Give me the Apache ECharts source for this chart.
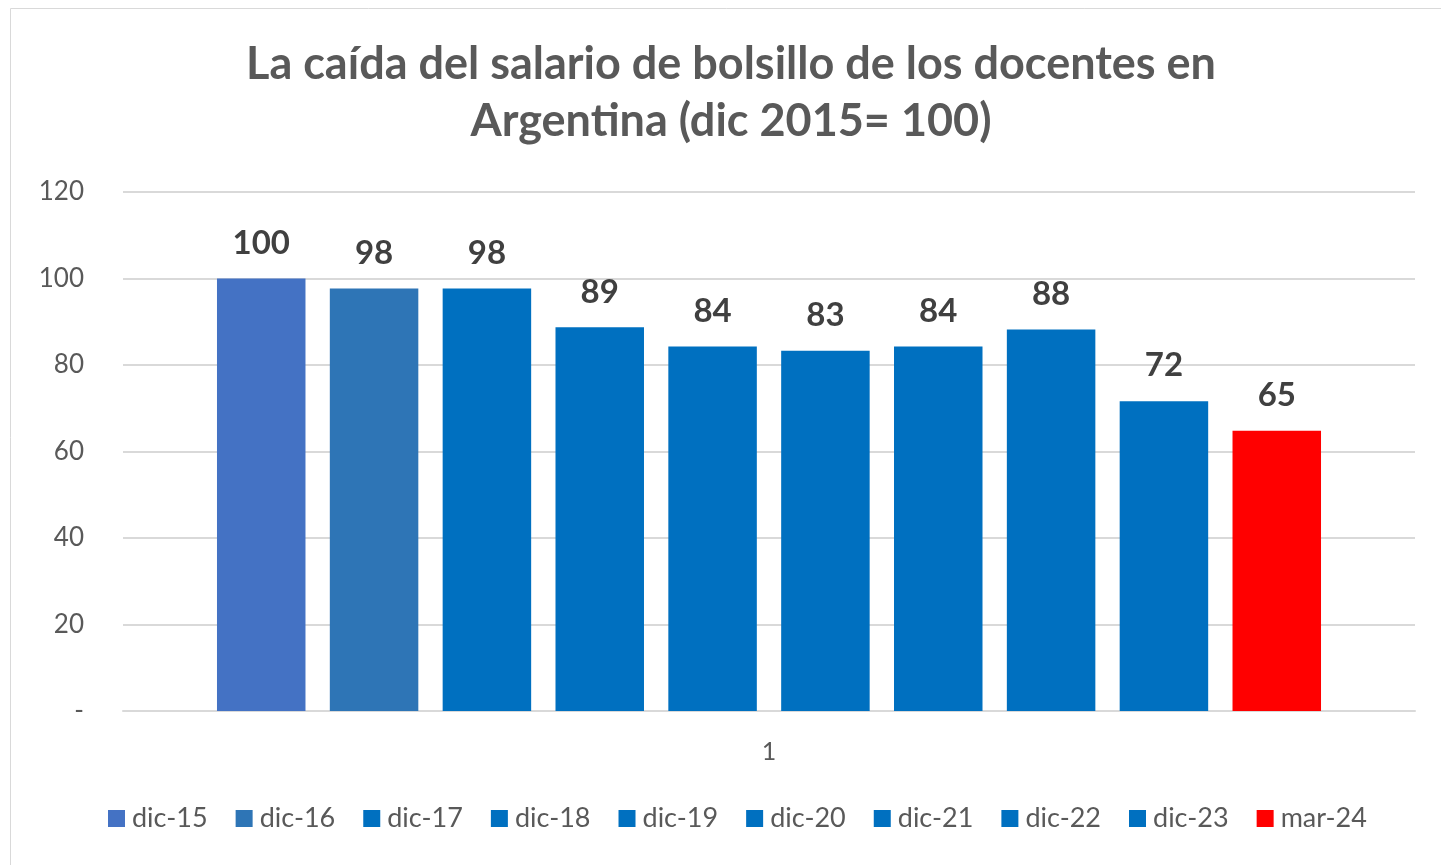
<!DOCTYPE html>
<html>
<head>
<meta charset="utf-8">
<script src="https://cdn.jsdelivr.net/npm/echarts@6/dist/echarts.min.js"></script>
<style>
  html, body { margin: 0; padding: 0; background: #fff; }
  #chart { width: 1441px; height: 865px; }
</style>
</head>
<body>
<div id="chart"></div>
<script>
const periods = ['dic-15', 'dic-16', 'dic-17', 'dic-18', 'dic-19', 'dic-20', 'dic-21', 'dic-22', 'dic-23', 'mar-24']
const values = [100, 97.7, 97.7, 88.7, 84.3, 83.3, 84.3, 88.2, 71.6, 64.8]
const colors = ['#4472C4', '#2E75B6', '#0070C0', '#0070C0', '#0070C0', '#0070C0', '#0070C0', '#0070C0', '#0070C0', '#FF0000']
const categories = ['1']

const font = 'Lato, "Open Sans", sans-serif'

const chart = echarts.init(document.getElementById('chart'))

const series = periods.map((name, i) => ({
  name,
  type: 'bar',
  data: [values[i]],
  barWidth: 88.5,
  barGap: '27.5%',
  itemStyle: { color: colors[i] },
  label: {
    show: true,
    position: 'top',
    distance: 19,
    fontFamily: font,
    fontSize: 33,
    fontWeight: 'bold',
    color: '#404040',
    formatter: p => Math.round(p.value)
  }
}))

chart.setOption({
  animation: false,
  title: {
    text: 'La caída del salario de bolsillo de los docentes en\nArgentina (dic 2015= 100)',
    left: 726,
    textAlign: 'center',
    top: 31,
    textStyle: {
      fontFamily: font,
      fontSize: 45,
      fontWeight: 'bold',
      color: '#595959',
      lineHeight: 57
    }
  },
  graphic: [{
    type: 'rect',
    shape: { x: 10.5, y: 8.5, width: 1440, height: 870 },
    style: { fill: 'none', stroke: '#D9D9D9', lineWidth: 1 },
    silent: true
  }],
  legend: {
    bottom: 28,
    left: 103,
    itemWidth: 17,
    itemHeight: 17,
    itemGap: 28,
    icon: 'rect',
    textStyle: { fontFamily: font, fontSize: 27, color: '#595959', padding: [0, 0, 0, 2] },
    data: periods
  },
  grid: { left: 123, right: 26, top: 192, bottom: 154 },
  xAxis: {
    type: 'category',
    data: categories,
    axisLine: { lineStyle: { color: '#D9D9D9', width: 2 } },
    axisTick: { show: false },
    axisLabel: { fontFamily: font, fontSize: 25, color: '#595959', margin: 28 }
  },
  yAxis: {
    type: 'value',
    min: 0,
    max: 120,
    interval: 20,
    axisLine: { show: false },
    axisTick: { show: false },
    splitLine: { lineStyle: { color: '#D9D9D9', width: 2 } },
    axisLabel: {
      fontFamily: font,
      fontSize: 26,
      color: '#595959',
      margin: 39,
      formatter: v => (v === 0 ? '-' : v)
    }
  },
  series
})
</script>
</body>
</html>
